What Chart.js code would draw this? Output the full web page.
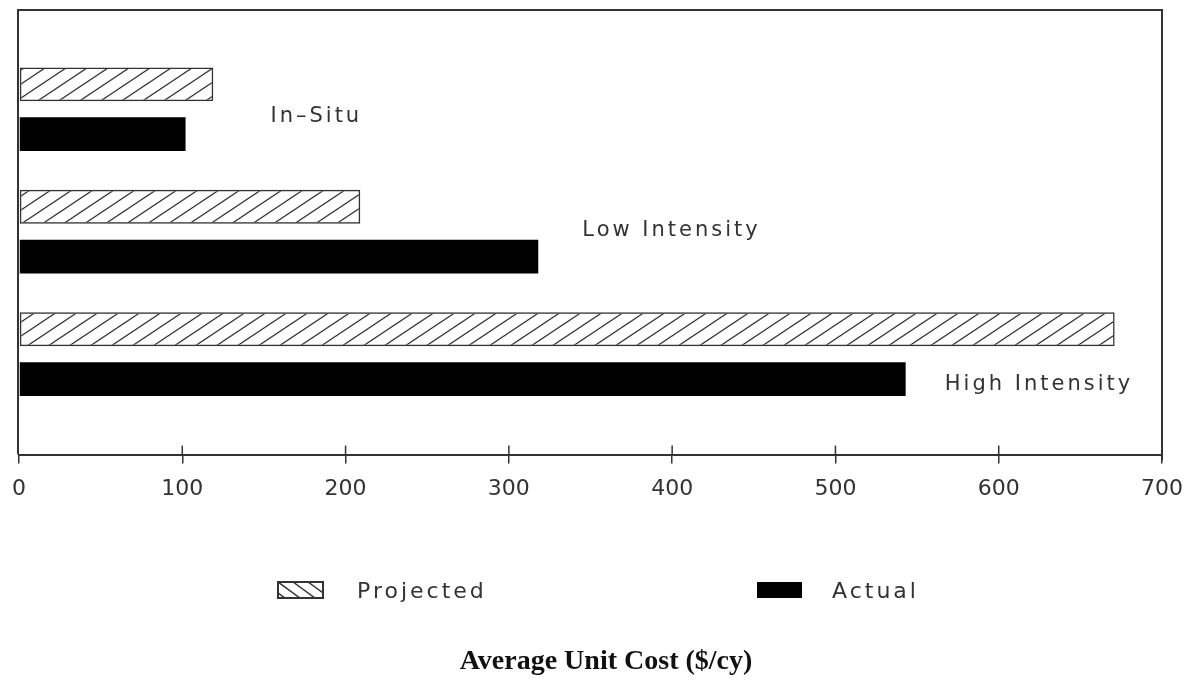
<!DOCTYPE html>
<html>
<head>
<meta charset="utf-8">
<script src="https://cdn.jsdelivr.net/npm/chart.js@4/dist/chart.umd.min.js"></script>
<style>
  html, body { margin: 0; background: #fff; }
</style>
</head>
<body>
<canvas id="cost-chart" width="1195" height="683"></canvas>
<script>
// values
var groups = ['In–Situ', 'Low Intensity', 'High Intensity'];
var groupPos = [1, 2, 3];
var projected = [119, 209, 671];
var actual = [102, 318, 543];
var seriesNames = ['Projected', 'Actual'];
var xTicks = [0, 100, 200, 300, 400, 500, 600, 700];
var axisTitle = 'Average Unit Cost ($/cy)';

// where the group names sit (x in $/cy, y in group units)
var labelX = [154, 345, 567];
var labelY = [1.06, 1.99, 3.25];

var ink = '#333';
var sans = 'DejaVu Sans';

function hatch() {
  var w = 21, h = 14;
  var c = document.createElement('canvas');
  c.width = w; c.height = h;
  var g = c.getContext('2d');
  g.strokeStyle = ink;
  g.lineWidth = 1.3;
  for (var k = -1; k <= 1; k++) {
    g.beginPath();
    g.moveTo(k * w - 3, h + 2);
    g.lineTo(k * w + w + 3, -2);
    g.stroke();
  }
  return g.createPattern(c, 'repeat');
}

var hatchFill = hatch();

// frame, tick marks, group names, legend and axis title
var decor = {
  id: 'decor',
  afterDraw: function(chart) {
    var ctx = chart.ctx;
    var a = chart.chartArea;
    var xs = chart.scales.x, ys = chart.scales.y;
    ctx.save();
    ctx.strokeStyle = ink;
    ctx.lineWidth = 2;
    ctx.beginPath();
    ctx.moveTo(a.left - 1, a.bottom);
    ctx.lineTo(a.left - 1, a.top);
    ctx.lineTo(a.right, a.top);
    ctx.lineTo(a.right, a.bottom + 6);
    ctx.stroke();

    ctx.lineWidth = 1.5;
    xTicks.slice(1, -1).forEach(function(v) {
      var px = xs.getPixelForValue(v);
      ctx.beginPath();
      ctx.moveTo(px, a.bottom);
      ctx.lineTo(px, a.bottom - 9);
      ctx.stroke();
    });

    ctx.fillStyle = ink;
    ctx.font = '21px "' + sans + '"';
    ctx.letterSpacing = '3px';
    ctx.textBaseline = 'middle';
    ctx.textAlign = 'left';
    groups.forEach(function(name, i) {
      ctx.fillText(name, xs.getPixelForValue(labelX[i]), ys.getPixelForValue(labelY[i]));
    });

    // legend
    var items = [{x: 278, textX: 357}, {x: 757, textX: 832}];
    var ly = 582, lw = 45, lh = 16;
    ctx.font = '22px "' + sans + '"';
    chart.data.datasets.forEach(function(ds, i) {
      var it = items[i];
      if (i === 0) {
        ctx.save();
        ctx.beginPath();
        ctx.rect(it.x, ly, lw, lh);
        ctx.clip();
        ctx.lineWidth = 1.5;
        for (var k = -2; k < 5; k++) {
          ctx.beginPath();
          ctx.moveTo(it.x + k * 15, ly);
          ctx.lineTo(it.x + k * 15 + 22, ly + lh);
          ctx.stroke();
        }
        ctx.restore();
        ctx.lineWidth = 2;
        ctx.strokeRect(it.x, ly, lw, lh);
      } else {
        ctx.fillStyle = '#000';
        ctx.fillRect(it.x, ly, lw, lh);
      }
      ctx.fillStyle = ink;
      ctx.fillText(ds.label, it.textX, ly + lh / 2 + 2);
    });

    // axis title
    ctx.letterSpacing = '0px';
    ctx.fillStyle = '#111';
    ctx.font = 'bold 28px "Liberation Serif"';
    ctx.textAlign = 'center';
    ctx.fillText(axisTitle, 606, 662);
    ctx.restore();
  }
};

var ctx = document.getElementById('cost-chart').getContext('2d');

var chart = new Chart(ctx, {
  type: 'bar',
  data: {
    datasets: [
      {
        label: seriesNames[0],
        data: groupPos.map(function(y, i) { return {x: projected[i], y: y}; }),
        backgroundColor: hatchFill,
        borderColor: ink,
        borderWidth: 1.5,
        borderSkipped: false
      },
      {
        label: seriesNames[1],
        data: groupPos.map(function(y, i) { return {x: actual[i], y: y}; }),
        backgroundColor: '#000',
        borderWidth: 0
      }
    ]
  },
  options: {
    indexAxis: 'y',
    responsive: false,
    animation: false,
    devicePixelRatio: 1,
    categoryPercentage: 0.813,
    barPercentage: 0.68,
    layout: { padding: { left: 18, right: 31, top: 10, bottom: 169 } },
    scales: {
      x: {
        type: 'linear',
        min: 0,
        max: 700,
        afterBuildTicks: function(scale) {
          scale.ticks = xTicks.map(function(v) { return {value: v}; });
        },
        ticks: {
          color: ink,
          padding: 12,
          maxRotation: 0,
          font: { family: sans, size: 22 }
        },
        grid: { drawOnChartArea: false, tickLength: 9, color: ink, lineWidth: 1.5 },
        border: { color: ink, width: 2 }
      },
      y: {
        type: 'linear',
        min: 0.19,
        max: 3.82,
        offset: false,
        reverse: true,
        display: false,
        afterBuildTicks: function(scale) {
          scale.ticks = groupPos.map(function(v) { return {value: v}; });
        }
      }
    },
    plugins: {
      legend: { display: false },
      tooltip: { enabled: false }
    }
  },
  plugins: [decor]
});
</script>
</body>
</html>
